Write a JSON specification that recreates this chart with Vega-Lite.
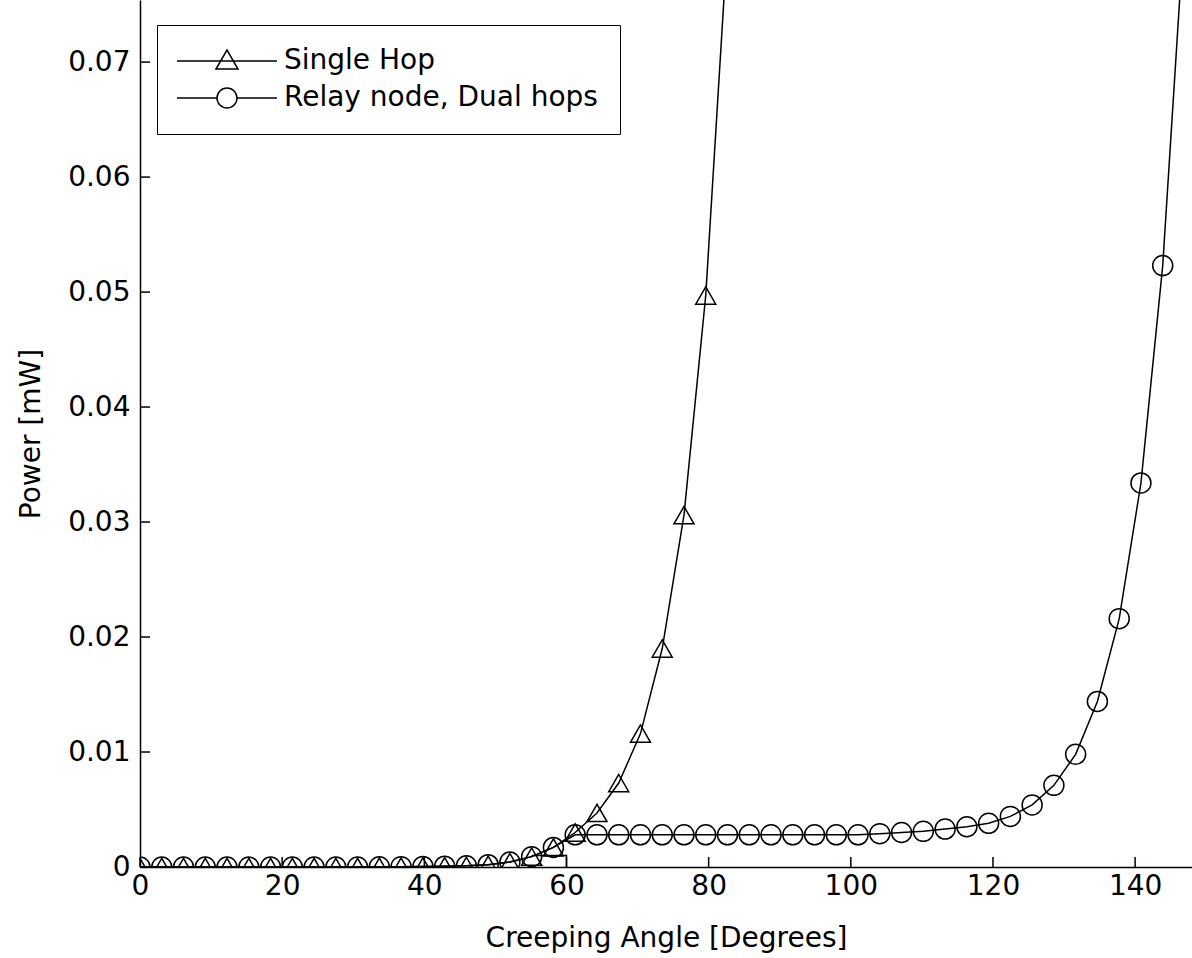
{
  "$schema": "https://vega.github.io/schema/vega-lite/v6.json",
  "width": 1052,
  "height": 867,
  "autosize": {"type": "none"},
  "padding": {"left": 140, "top": 0, "right": 0, "bottom": 91},
  "background": "white",
  "config": {
    "view": {"stroke": null},
    "font": "DejaVu Sans",
    "axis": {
      "grid": false,
      "domainColor": "black",
      "domainWidth": 1.5,
      "labelColor": "black",
      "labelFont": "DejaVu Sans",
      "labelFontSize": 28,
      "titleFont": "DejaVu Sans",
      "titleFontSize": 28,
      "titleFontWeight": "normal",
      "titleColor": "black"
    }
  },
  "datasets": {
    "curves": [
      {"angle": 0, "power": 0, "series": "Single Hop"},
      {"angle": 3.06, "power": 0, "series": "Single Hop"},
      {"angle": 6.12, "power": 0, "series": "Single Hop"},
      {"angle": 9.18, "power": 0, "series": "Single Hop"},
      {"angle": 12.24, "power": 0, "series": "Single Hop"},
      {"angle": 15.31, "power": 0, "series": "Single Hop"},
      {"angle": 18.37, "power": 0, "series": "Single Hop"},
      {"angle": 21.43, "power": 0, "series": "Single Hop"},
      {"angle": 24.49, "power": 0, "series": "Single Hop"},
      {"angle": 27.55, "power": 0, "series": "Single Hop"},
      {"angle": 30.61, "power": 0, "series": "Single Hop"},
      {"angle": 33.67, "power": 0.00002, "series": "Single Hop"},
      {"angle": 36.73, "power": 0.00003, "series": "Single Hop"},
      {"angle": 39.8, "power": 0.00005, "series": "Single Hop"},
      {"angle": 42.86, "power": 0.00007, "series": "Single Hop"},
      {"angle": 45.92, "power": 0.0001, "series": "Single Hop"},
      {"angle": 48.98, "power": 0.0002, "series": "Single Hop"},
      {"angle": 52.04, "power": 0.00043, "series": "Single Hop"},
      {"angle": 55.1, "power": 0.0009, "series": "Single Hop"},
      {"angle": 58.16, "power": 0.0017, "series": "Single Hop"},
      {"angle": 61.22, "power": 0.003, "series": "Single Hop"},
      {"angle": 64.29, "power": 0.0047, "series": "Single Hop"},
      {"angle": 67.35, "power": 0.0073, "series": "Single Hop"},
      {"angle": 70.41, "power": 0.0116, "series": "Single Hop"},
      {"angle": 73.47, "power": 0.019, "series": "Single Hop"},
      {"angle": 76.53, "power": 0.0306, "series": "Single Hop"},
      {"angle": 79.59, "power": 0.0497, "series": "Single Hop"},
      {"angle": 82.65, "power": 0.0805, "series": "Single Hop"},
      {"angle": 0, "power": 0, "series": "Relay node, Dual hops"},
      {"angle": 3.06, "power": 0, "series": "Relay node, Dual hops"},
      {"angle": 6.12, "power": 0, "series": "Relay node, Dual hops"},
      {"angle": 9.18, "power": 0, "series": "Relay node, Dual hops"},
      {"angle": 12.24, "power": 0, "series": "Relay node, Dual hops"},
      {"angle": 15.31, "power": 0, "series": "Relay node, Dual hops"},
      {"angle": 18.37, "power": 0, "series": "Relay node, Dual hops"},
      {"angle": 21.43, "power": 0, "series": "Relay node, Dual hops"},
      {"angle": 24.49, "power": 0, "series": "Relay node, Dual hops"},
      {"angle": 27.55, "power": 0, "series": "Relay node, Dual hops"},
      {"angle": 30.61, "power": 0, "series": "Relay node, Dual hops"},
      {"angle": 33.67, "power": 0.00002, "series": "Relay node, Dual hops"},
      {"angle": 36.73, "power": 0.00003, "series": "Relay node, Dual hops"},
      {"angle": 39.8, "power": 0.00005, "series": "Relay node, Dual hops"},
      {"angle": 42.86, "power": 0.00007, "series": "Relay node, Dual hops"},
      {"angle": 45.92, "power": 0.0001, "series": "Relay node, Dual hops"},
      {"angle": 48.98, "power": 0.0002, "series": "Relay node, Dual hops"},
      {"angle": 52.04, "power": 0.00043, "series": "Relay node, Dual hops"},
      {"angle": 55.1, "power": 0.0009, "series": "Relay node, Dual hops"},
      {"angle": 58.16, "power": 0.0017, "series": "Relay node, Dual hops"},
      {"angle": 61.22, "power": 0.0028, "series": "Relay node, Dual hops"},
      {"angle": 64.29, "power": 0.0028, "series": "Relay node, Dual hops"},
      {"angle": 67.35, "power": 0.0028, "series": "Relay node, Dual hops"},
      {"angle": 70.41, "power": 0.0028, "series": "Relay node, Dual hops"},
      {"angle": 73.47, "power": 0.0028, "series": "Relay node, Dual hops"},
      {"angle": 76.53, "power": 0.0028, "series": "Relay node, Dual hops"},
      {"angle": 79.59, "power": 0.0028, "series": "Relay node, Dual hops"},
      {"angle": 82.65, "power": 0.0028, "series": "Relay node, Dual hops"},
      {"angle": 85.71, "power": 0.0028, "series": "Relay node, Dual hops"},
      {"angle": 88.78, "power": 0.0028, "series": "Relay node, Dual hops"},
      {"angle": 91.84, "power": 0.0028, "series": "Relay node, Dual hops"},
      {"angle": 94.9, "power": 0.0028, "series": "Relay node, Dual hops"},
      {"angle": 97.96, "power": 0.0028, "series": "Relay node, Dual hops"},
      {"angle": 101.02, "power": 0.0028, "series": "Relay node, Dual hops"},
      {"angle": 104.08, "power": 0.0029, "series": "Relay node, Dual hops"},
      {"angle": 107.14, "power": 0.003, "series": "Relay node, Dual hops"},
      {"angle": 110.2, "power": 0.0031, "series": "Relay node, Dual hops"},
      {"angle": 113.27, "power": 0.0033, "series": "Relay node, Dual hops"},
      {"angle": 116.33, "power": 0.0035, "series": "Relay node, Dual hops"},
      {"angle": 119.39, "power": 0.0038, "series": "Relay node, Dual hops"},
      {"angle": 122.45, "power": 0.0044, "series": "Relay node, Dual hops"},
      {"angle": 125.51, "power": 0.0054, "series": "Relay node, Dual hops"},
      {"angle": 128.57, "power": 0.0071, "series": "Relay node, Dual hops"},
      {"angle": 131.63, "power": 0.0098, "series": "Relay node, Dual hops"},
      {"angle": 134.69, "power": 0.0144, "series": "Relay node, Dual hops"},
      {"angle": 137.76, "power": 0.0216, "series": "Relay node, Dual hops"},
      {"angle": 140.82, "power": 0.0334, "series": "Relay node, Dual hops"},
      {"angle": 143.88, "power": 0.0523, "series": "Relay node, Dual hops"},
      {"angle": 146.94, "power": 0.082, "series": "Relay node, Dual hops"}
    ],
    "step": [
      {"angle": 55.1, "power": 0.001, "k": 1},
      {"angle": 60, "power": 0.001, "k": 2},
      {"angle": 60, "power": 0, "k": 3}
    ],
    "xticks": [
      {"angle": 0, "power": 0},
      {"angle": 20, "power": 0},
      {"angle": 40, "power": 0},
      {"angle": 60, "power": 0},
      {"angle": 80, "power": 0},
      {"angle": 100, "power": 0},
      {"angle": 120, "power": 0},
      {"angle": 140, "power": 0}
    ],
    "yticks": [
      {"angle": 0, "power": 0},
      {"angle": 0, "power": 0.01},
      {"angle": 0, "power": 0.02},
      {"angle": 0, "power": 0.03},
      {"angle": 0, "power": 0.04},
      {"angle": 0, "power": 0.05},
      {"angle": 0, "power": 0.06},
      {"angle": 0, "power": 0.07}
    ]
  },
  "resolve": {"scale": {"shape": "independent"}},
  "encoding": {
    "x": {
      "field": "angle",
      "type": "quantitative",
      "scale": {"domain": [0, 148], "nice": false, "zero": false},
      "axis": {
        "title": "Creeping Angle [Degrees]",
        "values": [0, 20, 40, 60, 80, 100, 120, 140],
        "ticks": false,
        "labelPadding": 5,
        "titlePadding": 24,
        "labelFlush": false
      }
    },
    "y": {
      "field": "power",
      "type": "quantitative",
      "scale": {"domain": [0, 0.0754], "nice": false},
      "axis": {
        "title": "Power [mW]",
        "values": [0, 0.01, 0.02, 0.03, 0.04, 0.05, 0.06, 0.07],
        "labelExpr": "datum.value == 0 ? '0' : format(datum.value, '.2f')",
        "ticks": false,
        "labelPadding": 10,
        "titlePadding": 22,
        "labelFlush": false
      }
    }
  },
  "layer": [
    {
      "data": {"name": "xticks"},
      "mark": {"type": "tick", "orient": "vertical", "size": 10, "thickness": 1.5, "color": "black", "opacity": 1, "yOffset": -5}
    },
    {
      "data": {"name": "yticks"},
      "mark": {"type": "tick", "orient": "horizontal", "size": 10, "thickness": 1.5, "color": "black", "opacity": 1, "xOffset": 5}
    },
    {
      "data": {"name": "curves"},
      "mark": {"type": "line", "color": "black", "strokeWidth": 1.5, "clip": true},
      "encoding": {"detail": {"field": "series"}}
    },
    {
      "data": {"name": "step"},
      "mark": {"type": "line", "color": "black", "strokeWidth": 1.5, "clip": true},
      "encoding": {"order": {"field": "k", "type": "quantitative"}}
    },
    {
      "data": {"name": "curves"},
      "mark": {"type": "point", "filled": false, "color": "black", "strokeWidth": 1.5, "size": 400, "clip": true, "opacity": 1},
      "encoding": {
        "shape": {
          "field": "series",
          "type": "nominal",
          "scale": {"domain": ["Single Hop", "Relay node, Dual hops"], "range": ["triangle-up", "circle"]},
          "legend": null
        }
      }
    },
    {
      "data": {"name": "curves"},
      "mark": {"type": "point", "filled": false, "color": "black", "strokeWidth": 1.5, "size": 400, "clip": true, "opacity": 0},
      "encoding": {
        "shape": {
          "field": "series",
          "type": "nominal",
          "scale": {
            "domain": ["Single Hop", "Relay node, Dual hops"],
            "range": ["M-5,0H5M-1.1,0.8L0,-1.1L1.1,0.8Z", "M-5,0H-1M1,0H5M-1,0A1,1 0 1,1 1,0A1,1 0 1,1 -1,0Z"]
          },
          "legend": {
            "title": null,
            "orient": "none",
            "legendX": 17,
            "legendY": 25,
            "strokeColor": "black",
            "fillColor": "white",
            "padding": 22,
            "labelFont": "DejaVu Sans",
            "labelFontSize": 28,
            "labelColor": "black",
            "labelLimit": 600,
            "symbolSize": 400,
            "symbolOpacity": 1,
            "symbolStrokeColor": "black",
            "symbolStrokeWidth": 1.5,
            "symbolFillColor": "transparent",
            "symbolOffset": 34,
            "labelOffset": 43,
            "rowPadding": 9
          }
        }
      }
    }
  ]
}
